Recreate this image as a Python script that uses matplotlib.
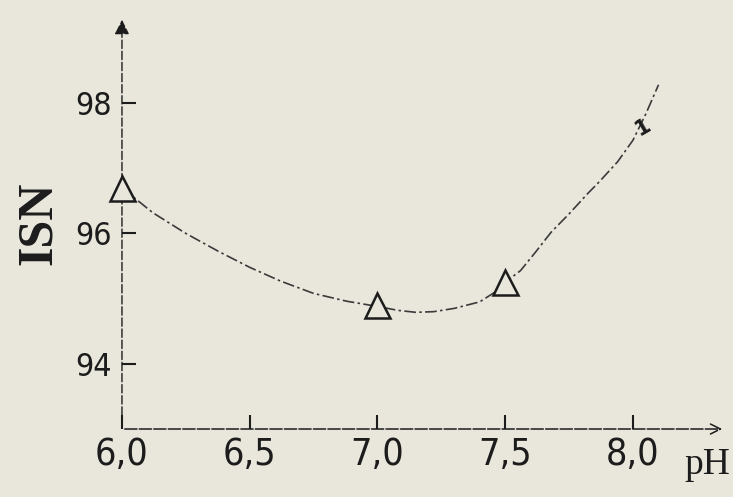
import matplotlib
matplotlib.use('Agg')
import matplotlib.pyplot as plt
from matplotlib.ticker import FuncFormatter

# measured points (triangles)
ph = [6.0, 7.0, 7.5]
isn = [96.7, 94.9, 95.25]

# hand drawn curve
curve_ph = [6.0, 6.12, 6.25, 6.38, 6.5, 6.62, 6.75, 6.88, 7.0, 7.08, 7.15,
            7.22, 7.3, 7.4, 7.46, 7.5, 7.56, 7.62, 7.68, 7.75, 7.82, 7.87,
            7.94, 8.0, 8.05, 8.1]
curve_isn = [96.7, 96.32, 96.0, 95.72, 95.48, 95.27, 95.08, 94.96, 94.88,
             94.82, 94.79, 94.8, 94.85, 94.95, 95.1, 95.25, 95.43, 95.72,
             96.02, 96.3, 96.6, 96.8, 97.1, 97.43, 97.83, 98.28]

xticks = [6.0, 6.5, 7.0, 7.5, 8.0]
yticks = [94, 96, 98]

paper = '#e9e7dc'
ink = '#1c1c1c'

fig = plt.figure(figsize=(7.33, 4.97), dpi=100, facecolor=paper)
ax = fig.add_axes([0.1664, 0.1368, 0.8226, 0.829])
ax.set_facecolor(paper)

ax.plot(curve_ph, curve_isn, color='#3a3a3a', lw=1.2,
        linestyle=(0, (7, 2, 1.5, 2)), zorder=2, clip_on=False)
ax.plot(ph, isn, linestyle='none', marker='^', markersize=18,
        markerfacecolor=paper, markeredgecolor=ink, markeredgewidth=1.8,
        zorder=3, clip_on=False)

ax.set_xlim(6.0, 8.36)
ax.set_ylim(93.0, 99.32)

for s in ax.spines.values():
    s.set_visible(False)

# axes drawn as arrows like the hand sketch
ax.annotate('', xy=(1, 0), xytext=(0, 0), xycoords='axes fraction',
            arrowprops=dict(arrowstyle='->', color=ink, lw=1.1,
                            linestyle=(0, (8, 1.5)), mutation_scale=18))
ax.annotate('', xy=(0, 1), xytext=(0, 0), xycoords='axes fraction',
            arrowprops=dict(arrowstyle='-|>', color=ink, lw=1.0,
                            linestyle=(0, (6, 2)), mutation_scale=22),
            zorder=1)

comma = FuncFormatter(lambda v, p: ('%.1f' % v).replace('.', ','))
ax.set_xticks(xticks)
ax.xaxis.set_major_formatter(comma)
ax.set_yticks(yticks)
ax.tick_params(axis='both', direction='in', colors=ink, width=1.5, length=10)
ax.tick_params(axis='x', labelsize=27, pad=6)
ax.tick_params(axis='y', labelsize=23, pad=7)
for lab in ax.get_xticklabels() + ax.get_yticklabels():
    lab.set_fontstretch('condensed')
    lab.set_color(ink)

ax.set_ylabel('ISN', fontsize=36, fontfamily='Liberation Serif',
              fontweight='bold', color=ink, labelpad=10)
ax.text(8.29, 92.45, 'pH', fontsize=27, fontfamily='Liberation Serif',
        color=ink, ha='center', va='center', clip_on=False)
ax.text(8.04, 97.63, '1', fontsize=15, fontweight='bold', color=ink,
        rotation=30, ha='center', va='center')

fig.savefig('out.png', dpi=100, facecolor=paper)
